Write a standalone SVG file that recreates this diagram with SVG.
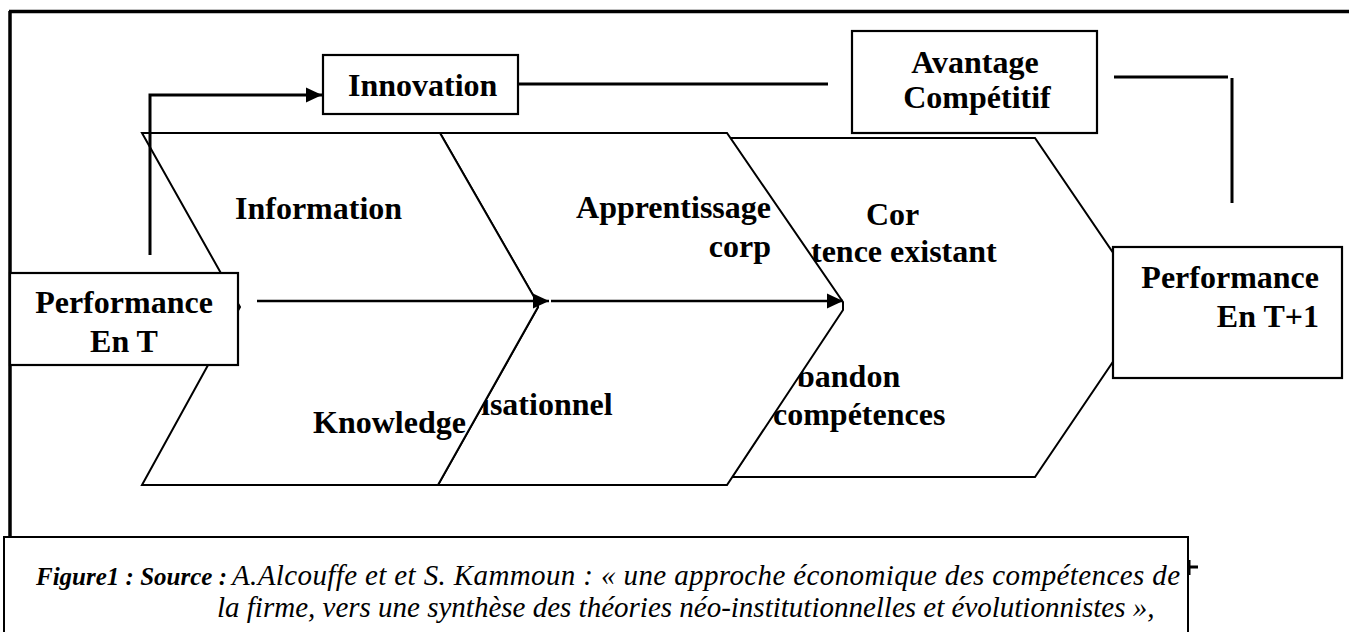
<svg xmlns="http://www.w3.org/2000/svg" width="1349" height="632" viewBox="0 0 1349 632">
<style>
.t{font-family:"Liberation Serif","Times New Roman",serif;font-weight:bold;font-size:32px;fill:#000}
.c{font-family:"Liberation Serif","Times New Roman",serif;font-style:italic;font-size:29px;fill:#000}
.cb{font-weight:bold;font-size:25px}
.chev{fill:#fff;stroke:#000;stroke-width:2;stroke-linejoin:miter}
.box{fill:#fff;stroke:#000;stroke-width:2.2}
.thick{fill:none;stroke:#000;stroke-width:3.5}
.conn{fill:none;stroke:#000;stroke-width:3}
.conn2{fill:none;stroke:#000;stroke-width:2.5}
</style>
<defs>
<marker id="ah" markerUnits="userSpaceOnUse" markerWidth="18" markerHeight="18" refX="16" refY="9" orient="auto">
<path d="M0,1.5 L16,9 L0,16.5 z" fill="#000"/>
</marker>
</defs>
<rect width="1349" height="632" fill="#fff"/>
<g id="frame">
<path class="thick" d="M9,11.5 H1349 M10,11 V568"/>
</g>
<g id="chevron3">
<polygon class="chev" points="730,138 1035,138 1150,307 1035,477 732,477 843,307"/>
<text class="t" x="866" y="225">Cor</text>
<text class="t" x="811" y="262">tence existant</text>
<text class="t" x="797" y="387">bandon</text>
<text class="t" x="773" y="425">compétences</text>
</g>
<g id="chevron2">
<polygon class="chev" points="440,133 727,133 843,302 843,310 727,485 438,485 538,307 537,302"/>
<text class="t" x="771" y="218" text-anchor="end">Apprentissage</text>
<text class="t" x="771" y="257" text-anchor="end">corp</text>
<text class="t" x="481" y="415">isationnel</text>
</g>
<g id="chevron1">
<polygon class="chev" points="142,133 440,133 537,302 538,307 438,485 142,485 240,307"/>
<text class="t" x="235" y="219">Information</text>
<text class="t" x="313" y="433">Knowledge</text>
</g>
<g id="perf-t">
<rect class="box" x="10" y="273" width="228" height="92"/>
<text class="t" x="124" y="313" text-anchor="middle">Performance</text>
<text class="t" x="124" y="352" text-anchor="middle">En T</text>
</g>
<g id="perf-t1">
<rect class="box" x="1113" y="247" width="229" height="131"/>
<text class="t" x="1319" y="288" text-anchor="end">Performance</text>
<text class="t" x="1319" y="327" text-anchor="end">En T+1</text>
</g>
<g id="innovation">
<rect class="box" x="323" y="55" width="195" height="59"/>
<text class="t" x="348" y="96">Innovation</text>
</g>
<g id="avantage">
<rect class="box" x="852" y="31" width="245" height="102"/>
<text class="t" x="975" y="73" text-anchor="middle">Avantage</text>
<text class="t" x="977" y="108" text-anchor="middle">Compétitif</text>
</g>
<g id="connectors">
<path class="conn" d="M150,255 V95 H322" marker-end="url(#ah)"/>
<path class="conn" d="M518,84 H828"/>
<path class="conn" d="M1114,77 H1228 M1232,78 V203"/>
<path class="conn2" d="M257,301 H549" marker-end="url(#ah)"/>
<path class="conn2" d="M551,301 H843" marker-end="url(#ah)"/>
</g>
<g id="caption">
<rect x="4" y="537" width="1184" height="110" fill="#fff" stroke="#000" stroke-width="2"/>
<path class="conn" d="M1189,560 V575 M1188,567 H1198"/>
<text class="c cb" x="36" y="585">Figure1 : Source :</text>
<text class="c" x="232" y="585" textLength="948" lengthAdjust="spacing">A.Alcouffe et et S. Kammoun : « une approche économique des compétences de</text>
<text class="c" x="217" y="617">la firme, vers une synthèse des théories néo-institutionnelles et évolutionnistes »,</text>
</g>
</svg>
